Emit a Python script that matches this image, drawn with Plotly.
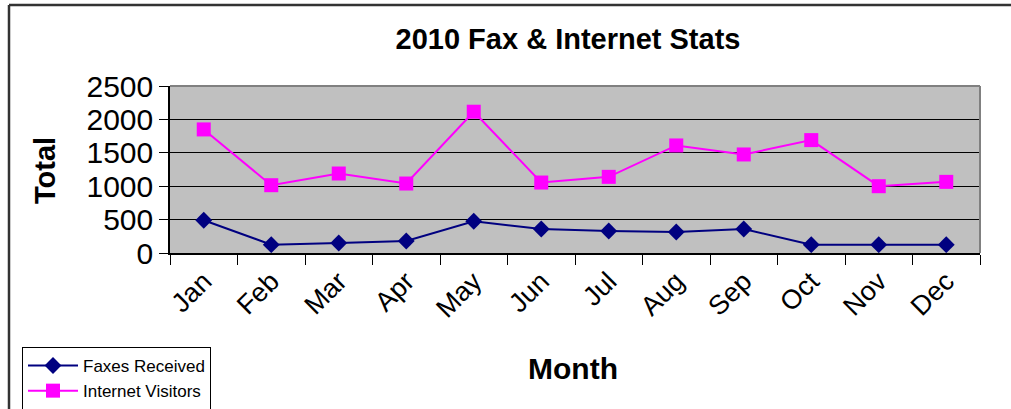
import plotly.graph_objects as go

months = ["Jan", "Feb", "Mar", "Apr", "May", "Jun", "Jul", "Aug", "Sep", "Oct", "Nov", "Dec"]
faxes = [490, 125, 150, 180, 475, 360, 330, 315, 360, 125, 125, 125]
visitors = [1850, 1015, 1190, 1040, 2115, 1055, 1140, 1610, 1475, 1690, 1000, 1065]
y_ticks = [0, 500, 1000, 1500, 2000, 2500]

W, H = 1011, 409
L, R, T, B = 170, 31, 86, 156
pw, ph = W - L - R, H - T - B

def px(x):
    return (x - L) / pw

def py(y):
    return (H - B - y) / ph

fig = go.Figure()
fig.add_trace(go.Scatter(
    x=months, y=faxes, name="Faxes Received", mode="lines+markers",
    line=dict(color="#000080", width=2),
    marker=dict(symbol="diamond", size=13, color="#000080"),
))
fig.add_trace(go.Scatter(
    x=months, y=visitors, name="Internet Visitors", mode="lines+markers",
    line=dict(color="#FF00FF", width=2),
    marker=dict(symbol="square", size=14, color="#FF00FF"),
))

font = "Arial, Liberation Sans, sans-serif"
fig.update_layout(
    width=W, height=H,
    margin=dict(l=L, r=R, t=T, b=B, autoexpand=False),
    paper_bgcolor="white",
    plot_bgcolor="#C0C0C0",
    font=dict(family=font, color="black"),
    title=dict(text="<b>2010 Fax &amp; Internet Stats</b>", x=px(568), xanchor="center",
               xref="paper", y=1 - 39 / H, yanchor="middle", font=dict(size=29)),
    xaxis=dict(
        tickson="boundaries", ticks="outside", ticklen=10, tickcolor="black",
        showline=True, linecolor="black", linewidth=1.5, showgrid=False,
        tickangle=-45, tickfont=dict(size=27), range=[-0.5, 11.5], automargin=False,
    ),
    yaxis=dict(
        range=[0, 2500], tickvals=y_ticks, ticks="outside", ticklen=9, tickcolor="black",
        showline=True, linecolor="black", linewidth=1.5,
        showgrid=True, gridcolor="black", gridwidth=1.2,
        tickfont=dict(size=30), zeroline=False, automargin=False,
    ),
    legend=dict(
        x=px(22), y=py(347), xanchor="left", yanchor="top",
        bgcolor="white", bordercolor="black", borderwidth=1,
        font=dict(size=17), itemwidth=50, tracegroupgap=0,
    ),
    annotations=[
        dict(text="<b>Month</b>", xref="paper", yref="paper", x=px(573), y=py(368),
             xanchor="center", yanchor="middle", showarrow=False, font=dict(size=30)),
        dict(text="<b>Total</b>", xref="paper", yref="paper", x=px(45), y=py(171),
             xanchor="center", yanchor="middle", showarrow=False, textangle=-90,
             font=dict(size=29)),
    ],
    shapes=[
        dict(type="line", xref="paper", yref="paper", x0=px(170), x1=px(980), y0=1, y1=1,
             line=dict(color="#808080", width=2)),
        dict(type="line", xref="paper", yref="paper", x0=px(980), x1=px(980), y0=0, y1=1,
             line=dict(color="#808080", width=2)),
        dict(type="line", xref="paper", yref="paper", x0=px(9), x1=px(1011), y0=py(5), y1=py(5),
             line=dict(color="#333333", width=2.5)),
        dict(type="line", xref="paper", yref="paper", x0=px(9), x1=px(9), y0=py(5), y1=py(409),
             line=dict(color="#333333", width=2.5)),
    ],
)

fig.write_html("out.html", config={"displayModeBar": False},
               post_script="document.body.style.margin='0';document.body.style.overflow='hidden';")
